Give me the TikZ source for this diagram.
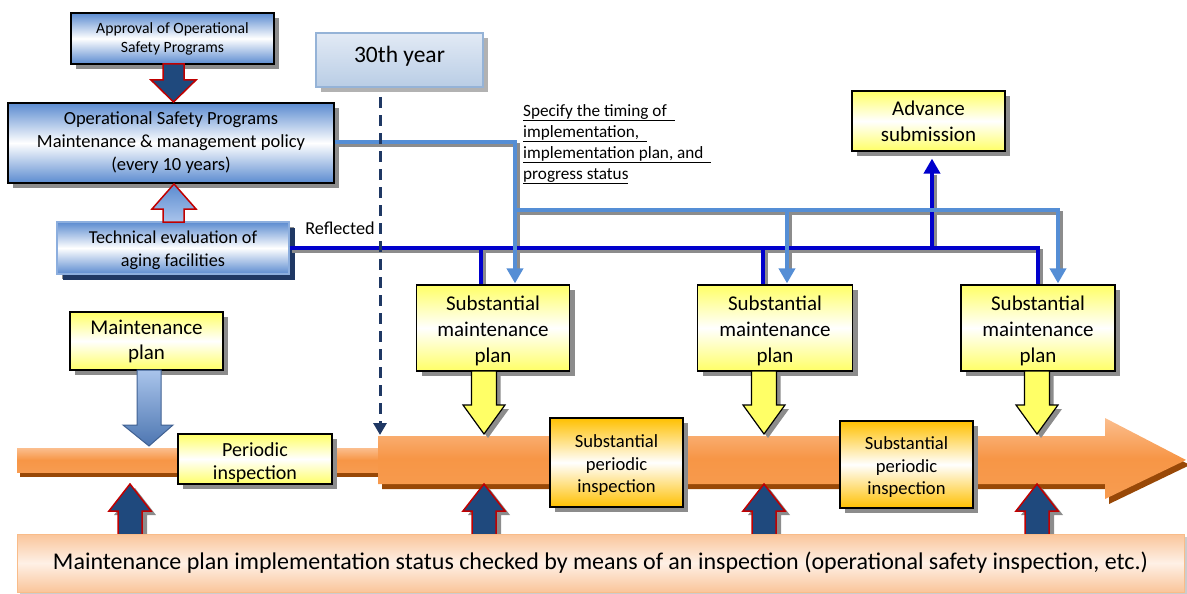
\documentclass[tikz,border=0pt]{standalone}
\usepackage{fontspec}
\setmainfont{Carlito}
\usetikzlibrary{shadows,arrows.meta,calc}
\definecolor{navy}{HTML}{1F497D}
\definecolor{navydk}{HTML}{1F3864}
\definecolor{darkred}{HTML}{C00000}
\definecolor{lblue}{HTML}{558ED5}
\definecolor{dblue}{HTML}{0000CC}
\definecolor{boxblue}{HTML}{5B8BD0}
\definecolor{paleblue}{HTML}{A9C4EB}
\definecolor{orng}{HTML}{F79646}
\definecolor{orngl}{HTML}{FBBE8E}
\definecolor{orngdark}{HTML}{984807}
\definecolor{ylw}{HTML}{FFFF66}
\definecolor{gold}{HTML}{FFC000}
\definecolor{shadowgray}{HTML}{8C8C8C}
\definecolor{peach}{HTML}{FAC59A}
\definecolor{peachl}{HTML}{FEF0E6}
\definecolor{yrtop}{HTML}{E2EAF5}
\definecolor{yrbot}{HTML}{B9CDE5}
\definecolor{yrborder}{HTML}{95B3D7}
\newcommand\myfs[2]{\fontsize{#1}{#2}\selectfont}
\begin{document}
\begin{tikzpicture}[x=1pt,y=-1pt,
  shad/.style={drop shadow={shadow xshift=5pt,shadow yshift=-5pt,fill=shadowgray,opacity=1}},
  bluebox/.style={shad,draw=black,line width=1.2pt,top color=boxblue,bottom color=boxblue,middle color=white,align=center,inner sep=0pt},
  ybox/.style={shad,draw=black,line width=1.2pt,top color=ylw,bottom color=ylw,middle color=white,align=center,inner sep=0pt},
  obox/.style={shad,draw=black,line width=1.2pt,top color=gold,bottom color=gold,middle color=white,align=center,inner sep=0pt},
  txt/.style={align=center,inner sep=0pt},
  lbline/.style={draw=lblue,line width=4pt},
  dbline/.style={draw=dblue,line width=4pt},
  shline/.style={draw=shadowgray,line width=4pt,shift={(3,3)}},
  navyarrow/.style={fill=navy,draw=darkred,line width=1.5pt,line join=miter},
  ylwarrow/.style={fill=ylw,draw=black,line width=1.2pt,drop shadow={shadow xshift=4pt,shadow yshift=-4pt,fill=shadowgray,opacity=1}},
  lbtip/.style={-{Triangle[width=16pt,length=15pt]}},
]
\useasboundingbox (0,0) rectangle (1187,594);

% ---------- timeline ----------
\path[top color=orngl,bottom color=orng!85!orngl,middle color=orng,
      drop shadow={shadow xshift=3pt,shadow yshift=-5pt,fill=orngdark,opacity=1}]
  (17,448) rectangle (380,472);
\path[top color=orngl,bottom color=orng!85!orngl,middle color=orng,
      drop shadow={shadow xshift=4pt,shadow yshift=-5pt,fill=orngdark,opacity=1}]
  (378,436) -- (1105,436) -- (1105,418) -- (1186,460) -- (1105,499) -- (1105,484) -- (378,484) -- cycle;

% ---------- bottom box ----------
\foreach \cx in {130,484,764,1037}{
  \draw[navyarrow,drop shadow={shadow xshift=5pt,shadow yshift=-4pt,fill=shadowgray,opacity=1}]
    (\cx-12,536) -- (\cx-12,511) -- (\cx-21,511) -- (\cx,484) -- (\cx+21,511) -- (\cx+12,511) -- (\cx+12,536) -- cycle;
}
\node[draw=peach!80!orng,line width=1pt,top color=peach,bottom color=peach,middle color=peachl,
      minimum width=1167pt,minimum height=58pt,inner sep=0pt,font=\myfs{24}{28},
      drop shadow={shadow xshift=3pt,shadow yshift=-3pt,fill=black!20,opacity=1}]
  (chk) at (600.5,563) {Maintenance plan implementation status checked by means of an inspection (operational safety inspection, etc.)};

% ---------- top-left boxes ----------
\node[bluebox,minimum width=203pt,minimum height=51pt,font=\myfs{15.7}{19}] (appr) at (172.5,38.5)
  {Approval of Operational\\Safety Programs};
\node[bluebox,minimum width=326pt,minimum height=80pt,font=\myfs{18.5}{23}] (osp) at (171,143)
  {Operational Safety Programs\\Maintenance \& management policy\\(every 10 years)};
\node[shad,draw=boxblue!70!white,line width=1.2pt,top color=boxblue,bottom color=boxblue,middle color=white,
      align=center,inner sep=0pt,minimum width=232pt,minimum height=52pt,
      drop shadow={shadow xshift=6pt,shadow yshift=-6pt,fill=navydk,opacity=1}] (tech) at (173,248) {};
\node[txt,font=\myfs{18.2}{23}] (techt) at ($(tech.center)+(0,2)$) {Technical evaluation of\\aging facilities};

\draw[navyarrow] (163,64) -- (184,64) -- (184,80) -- (196,80) -- (173.5,102) -- (151,80) -- (163,80) -- cycle;
\draw[draw=darkred,line width=1.5pt,top color=boxblue,bottom color=paleblue]
  (163,222) -- (163,209) -- (152,209) -- (174,184) -- (196,209) -- (184,209) -- (184,222) -- cycle;

\node[anchor=center,font=\myfs{18.2}{22}] (refl) at (340,228) {Reflected};

% ---------- 30th year ----------
\node[draw=yrborder,line width=2pt,top color=yrtop,bottom color=yrbot,minimum width=167pt,minimum height=54pt,
      inner sep=0pt,text depth=12pt,font=\myfs{23.5}{28},
      drop shadow={shadow xshift=5pt,shadow yshift=-5pt,fill=black!30,opacity=1}] (yr) at (399.5,60)
  {30th year};

% ---------- upper right ----------
\node[ybox,minimum width=153pt,minimum height=60pt,font=\myfs{21}{26}] (adv) at (928.5,121)
  {Advance\\submission};

\node[anchor=north west,align=left,inner sep=0pt,font=\myfs{17.2}{21}] (spec) at (523,104)
  {\underline{Specify the timing of\ \ }\\\underline{implementation,\ \ }\\\underline{implementation plan, and\ \ }\\\underline{progress status}};

% ---------- connector lines (shadows first) ----------
\draw[shline] (334,142) -- (515,142) -- (515,268);
\draw[shline] (515,210) -- (1058,210) -- (1058,268);
\draw[shline] (787,210) -- (787,268);
\draw[shline] (289,248) -- (1038,248) -- (1038,285);
\draw[shline] (481,248) -- (481,285);
\draw[shline] (763,248) -- (763,285);
\draw[shline] (932,248) -- (932,172);

\node[ybox,minimum width=153pt,minimum height=86pt] (smp1) at (493,328) {};
\node[ybox,minimum width=155pt,minimum height=86pt] (smp2) at (775,328) {};
\node[ybox,minimum width=154pt,minimum height=86pt] (smp3) at (1038,328) {};
\foreach \b in {smp1,smp2,smp3}{
  \node[txt,font=\myfs{21}{26}] (\b t) at ($(\b.center)+(0,3)$) {Substantial\\maintenance\\plan};
}

\draw[dbline] (tech.east) -- (1038,248) -- (1038,0 |- smp3.north);
\draw[dbline] (481,248) -- (481,0 |- smp1.north);
\draw[dbline] (763,248) -- (763,0 |- smp2.north);
\draw[dbline,-{Triangle[width=16pt,length=15pt]}] (932,248) -- ($(adv.south -| 932,0)+(0,7)$);

\draw[lbline,lbtip] (osp.east |- 0,142) -- (515,142) -- ($(515,0 |- smp1.north)+(0,-1)$);
\draw[lbline,lbtip] (513,210) -- (1058,210) -- ($(1058,0 |- smp3.north)+(0,-1)$);
\draw[lbline,lbtip] (787,210) -- ($(787,0 |- smp2.north)+(0,-1)$);

% ---------- dashed 30th year marker ----------
\draw[navydk,line width=3pt,dash pattern=on 11pt off 7pt,-{Triangle[width=13pt,length=12pt]}]
  (380,97) -- (380,435);

% ---------- maintenance plan ----------
\node[ybox,minimum width=153pt,minimum height=58pt,font=\myfs{21}{25}] (mp) at (146.5,341)
  {Maintenance\\plan};
\draw[draw=boxblue!70!black,line width=1pt,top color=paleblue,bottom color=boxblue!85!black]
  (137,370) -- (161,370) -- (161,425) -- (173,425) -- (149,446) -- (123,425) -- (137,425) -- cycle;

% ---------- yellow arrows ----------
\foreach \cx in {484,764,1037}{
  \draw[ylwarrow] (\cx-12.5,371) -- (\cx+12.5,371) -- (\cx+12.5,405) -- (\cx+21,405) -- (\cx,434) -- (\cx-21,405) -- (\cx-12.5,405) -- cycle;
}

% ---------- inspection boxes ----------
\node[ybox,minimum width=154pt,minimum height=50pt] (pi) at (255,459) {};
\node[txt,font=\myfs{20}{23}] (pit) at ($(pi.center)+(0,4)$) {Periodic\\inspection};
\node[obox,minimum width=133pt,minimum height=89pt] (spi1) at (616.5,462.5) {};
\node[obox,minimum width=133pt,minimum height=87pt] (spi2) at (906.5,464.5) {};
\foreach \b in {spi1,spi2}{
  \node[txt,font=\myfs{18.6}{22.5}] (\b t) at ($(\b.center)+(0,3)$) {Substantial\\periodic\\inspection};
}
\end{tikzpicture}
\end{document}
